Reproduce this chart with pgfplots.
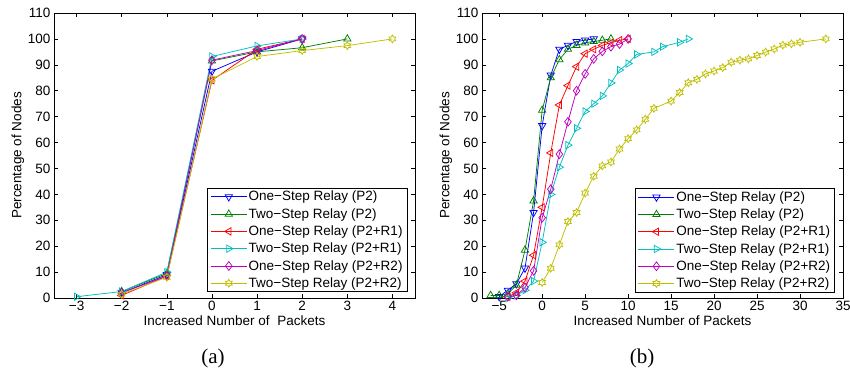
\documentclass[border=0pt]{standalone}
\usepackage{pgfplots}
\pgfplotsset{compat=1.18}
\usepackage{fontspec}
\setmainfont{Liberation Sans}
\newfontfamily\seriffont{Liberation Serif}
\pgfdeclareplotmark{hexagram}{%
  \pgfpathmoveto{\pgfpointpolar{90}{\pgfplotmarksize}}%
  \pgfpathlineto{\pgfpointpolar{120}{0.577\pgfplotmarksize}}%
  \pgfpathlineto{\pgfpointpolar{150}{\pgfplotmarksize}}%
  \pgfpathlineto{\pgfpointpolar{180}{0.577\pgfplotmarksize}}%
  \pgfpathlineto{\pgfpointpolar{210}{\pgfplotmarksize}}%
  \pgfpathlineto{\pgfpointpolar{240}{0.577\pgfplotmarksize}}%
  \pgfpathlineto{\pgfpointpolar{270}{\pgfplotmarksize}}%
  \pgfpathlineto{\pgfpointpolar{300}{0.577\pgfplotmarksize}}%
  \pgfpathlineto{\pgfpointpolar{330}{\pgfplotmarksize}}%
  \pgfpathlineto{\pgfpointpolar{0}{0.577\pgfplotmarksize}}%
  \pgfpathlineto{\pgfpointpolar{30}{\pgfplotmarksize}}%
  \pgfpathlineto{\pgfpointpolar{60}{0.577\pgfplotmarksize}}%
  \pgfpathclose
  \pgfusepathqstroke
}
\definecolor{mblue}{rgb}{0,0,1}
\definecolor{mgreen}{rgb}{0,0.5,0}
\definecolor{mred}{rgb}{1,0,0}
\definecolor{mcyan}{rgb}{0,0.75,0.75}
\definecolor{mmag}{rgb}{0.75,0,0.75}
\definecolor{myel}{rgb}{0.75,0.75,0}
\pgfplotsset{
  mystyle/.style={
    scale only axis, width=361pt, height=285pt,
    anchor=south west,
    ymin=0, ymax=110, ytick={0,10,...,110},
    tick align=inside, major tick length=4pt,
    axis line style={line width=0.8pt},
    every tick/.style={black, line width=0.6pt},
    tick label style={font=\fontsize{13.5}{15}\selectfont},
    every axis label/.append style={font=\fontsize{13.5}{15}\selectfont},
    /pgf/number format/assume math mode=true,
    ylabel={Percentage of Nodes},
    ylabel style={yshift=-3pt},
    xlabel style={yshift=2pt},
    legend cell align=left,
    legend style={font=\fontsize{13.5}{16}\selectfont, draw=black, line width=0.8pt,
      inner xsep=3pt, inner ysep=1.5pt, row sep=3pt,
      nodes={inner sep=1.5pt}},
    legend image code/.code={%
      \draw[mark repeat=2,mark phase=2] plot coordinates {(0pt,0pt) (18pt,0pt) (36pt,0pt)};},
    every axis plot/.append style={line width=0.75pt, mark size=4.2pt, mark options={solid, line width=0.75pt}},
  },
  s1/.style={color=mblue, mark=triangle, mark options={rotate=180}},
  s2/.style={color=mgreen, mark=triangle},
  s3/.style={color=mred, mark=triangle, mark options={rotate=90}},
  s4/.style={color=mcyan, mark=triangle, mark options={rotate=-90}},
  s5/.style={color=mmag, mark=diamond, mark size=4.4pt},
  s6/.style={color=myel, mark=hexagram, mark size=3.9pt},
}
\begin{document}
\begin{tikzpicture}[x=1pt,y=1pt]
\useasboundingbox (0,0) rectangle (850,369);
\begin{axis}[mystyle, at={(54pt,71pt)},
  xmin=-3.5, xmax=4.5, xtick={-3,...,4},
  xticklabels={−3,−2,−1,0,1,2,3,4},
  xlabel={Increased Number of~~Packets},
  legend style={at={(0.979,0.02)}, anchor=south east}]
\addplot[s1] coordinates {(-2,2) (-1,9) (0,87.5) (1,95) (2,100)};
\addplot[s2] coordinates {(-2,2.5) (-1,9.5) (0,91.5) (1,95) (2,96.6) (3,100)};
\addplot[s3] coordinates {(-2,1) (-1,8.5) (0,84) (1,96) (2,100)};
\addplot[s4] coordinates {(-3,0.5) (-2,2.5) (-1,10) (0,93.2) (1,97.3) (2,100)};
\addplot[s5] coordinates {(-2,2) (-1,8.5) (0,91.8) (1,95.5) (2,100)};
\addplot[s6] coordinates {(-2,1.5) (-1,8) (0,84.5) (1,93.2) (2,95.5) (3,97.4) (4,100)};
\legend{One−Step Relay (P2),Two−Step Relay (P2),One−Step Relay (P2+R1),Two−Step Relay (P2+R1),One−Step Relay (P2+R2),Two−Step Relay (P2+R2)}
\end{axis}
\begin{axis}[mystyle, at={(482pt,71pt)},
  xmin=-7, xmax=35, xtick={-5,0,...,35},
  xticklabels={−5,0,5,10,15,20,25,30,35},
  xlabel={Increased Number of Packets},
  legend style={at={(0.978,0.019)}, anchor=south east}]
\addplot[s1] coordinates {(-5,0.5) (-4,3) (-3,5.5) (-2,11.5) (-1,33) (0,66.5) (1,86) (2,96) (3,97.5) (4,99) (5,99.5) (6,100)};
\addplot[s2] coordinates {(-6,1) (-5,1) (-4,1.5) (-3,5) (-2,18.5) (-1,37.5) (0,72.5) (1,85) (2,92) (3,96) (4,97.5) (5,98.5) (6,99) (7,99.5) (8,100)};
\addplot[s3] coordinates {(-4,0.5) (-3,2) (-2,6.5) (-1,16.5) (0,35) (1,56) (2,74.5) (3,82) (4,89.3) (5,94.3) (6,96) (7,97.5) (8,98.5) (9,99.5) (10,100)};
\addplot[s4] coordinates {(-4,0) (-3,1) (-2,3) (-1,6.5) (0,21.5) (1,40) (2,50.5) (3,59) (4,65.5) (5,72) (6,75) (7,78) (8,83) (9,88) (10,90.5) (11,94) (13,95) (14,97) (16,98.7) (17,100)};
\addplot[s5] coordinates {(-4,0.5) (-3,1) (-2,4) (-1,10.5) (0,31) (1,42) (2,55.5) (3,68) (4,80) (5,86.5) (6,92.3) (7,95.2) (8,97) (9,98) (10,100)};
\addplot[s6] coordinates {(0,6) (1,11.5) (2,20.5) (3,29.5) (4,33) (5,40.5) (6,47) (7,51) (8,52.5) (9,57.5) (10,61.5) (11,64.9) (12,69) (13,73.2) (15,76) (16,79.3) (17,83.1) (18,84.4) (19,86.5) (20,87.6) (21,88.9) (22,91) (23,91.8) (24,92.3) (25,93.6) (26,94.9) (27,96.1) (28,97.6) (29,98.1) (30,98.7) (33,100)};
\legend{One−Step Relay (P2),Two−Step Relay (P2),One−Step Relay (P2+R1),Two−Step Relay (P2+R1),One−Step Relay (P2+R2),Two−Step Relay (P2+R2)}
\end{axis}
\node[font=\seriffont\fontsize{21}{24}\selectfont] at (213,11) {(a)};
\node[font=\seriffont\fontsize{21}{24}\selectfont] at (642,11) {(b)};
\end{tikzpicture}
\end{document}
